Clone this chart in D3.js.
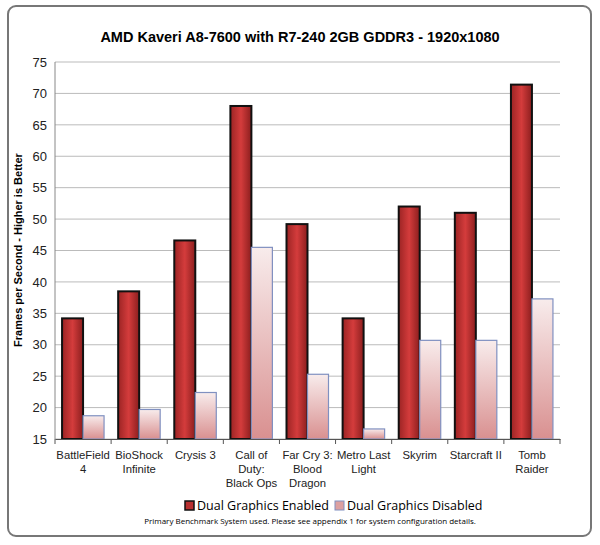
<!DOCTYPE html><html><head><meta charset="utf-8"><script src="https://cdn.jsdelivr.net/npm/d3@7"></script>
<style>body{margin:0;background:#fff}</style></head><body><svg id="c" width="600" height="545"></svg>
<script>
const categories=[["BattleField","4"],["BioShock","Infinite"],["Crysis 3"],["Call of","Duty:","Black Ops"],["Far Cry 3:","Blood","Dragon"],["Metro Last","Light"],["Skyrim"],["Starcraft II"],["Tomb","Raider"]];
const enabled=[34.2,38.5,46.6,68,49.2,34.2,52,51,71.4];
const disabled=[18.7,19.7,22.4,45.5,25.3,16.6,30.7,30.7,37.3];
const ticks=[15,20,25,30,35,40,45,50,55,60,65,70,75];
const svg=d3.select("#c");
const defs=svg.append("defs");
const g1=defs.append("linearGradient").attr("id","gE");
g1.append("stop").attr("offset","0").attr("stop-color","#9c2424");
g1.append("stop").attr("offset","0.5").attr("stop-color","#d43c3c");
g1.append("stop").attr("offset","1").attr("stop-color","#8c1e1e");
const g2=defs.append("linearGradient").attr("id","gD").attr("x1",0).attr("x2",0).attr("y1",0).attr("y2",1);
g2.append("stop").attr("offset","0").attr("stop-color","#f8ecec");
g2.append("stop").attr("offset","1").attr("stop-color","#d99090");
svg.append("rect").attr("x",8).attr("y",6).attr("width",583).attr("height",530).attr("rx",8).attr("fill","#fff").attr("stroke","#777").attr("stroke-width",2);
svg.append("text").attr("x",300).attr("y",42).attr("text-anchor","middle").attr("font-family","Liberation Sans, Arial").attr("font-weight","bold").attr("font-size",14.5).text("AMD Kaveri A8-7600 with R7-240 2GB GDDR3 - 1920x1080");
const L=55,R=560,T=62,B=439;
const x=d3.scaleBand().domain(d3.range(9)).range([L,R]);
const y=d3.scaleLinear().domain([15,75]).range([B,T]);
const gr=svg.append("g");
gr.selectAll("line").data(ticks).join("line").attr("x1",L).attr("x2",R).attr("y1",d=>y(d)).attr("y2",d=>y(d)).attr("stroke","#bbb");
gr.append("line").attr("x1",L).attr("x2",L).attr("y1",T).attr("y2",B).attr("stroke","#888");
const ax=svg.append("g").attr("transform",`translate(${L},0)`).call(d3.axisLeft(y).tickValues(ticks).tickSize(0).tickPadding(8));
ax.select(".domain").remove();
ax.selectAll("text").attr("font-family","Liberation Sans, Arial").attr("font-size",13).attr("fill","#222");
const bw=21;
svg.selectAll(".e").data(enabled).join("rect").attr("x",(d,i)=>x(i)+x.bandwidth()/2-bw).attr("width",bw).attr("y",d=>y(d)).attr("height",d=>B-y(d)).attr("fill","url(#gE)").attr("stroke","#111").attr("stroke-width",2);
svg.selectAll(".d").data(disabled).join("rect").attr("x",(d,i)=>x(i)+x.bandwidth()/2).attr("width",bw).attr("y",d=>y(d)).attr("height",d=>B-y(d)).attr("fill","url(#gD)").attr("stroke","#8090c0").attr("stroke-width",1.2);
const xa=svg.append("g").attr("transform",`translate(0,${B})`).call(d3.axisBottom(x).tickValues([]).tickSizeOuter(0));
xa.select(".domain").attr("stroke","#555");
svg.selectAll(".tk").data(d3.range(10)).join("line").attr("x1",i=>L+i*x.step()).attr("x2",i=>L+i*x.step()).attr("y1",B).attr("y2",B+5).attr("stroke","#555");
categories.forEach((c,i)=>{const t=svg.append("text").attr("text-anchor","middle").attr("font-family","Liberation Sans, Arial").attr("font-size",11.3).attr("fill","#222");
c.forEach((s,j)=>t.append("tspan").attr("x",x(i)+x.bandwidth()/2).attr("y",B+20+j*14).text(s));});
svg.append("text").attr("transform","translate(22,250) rotate(-90)").attr("text-anchor","middle").attr("font-family","Liberation Sans, Arial").attr("font-weight","bold").attr("font-size",11).text("Frames per Second - Higher is Better");
const lg=svg.append("g").attr("font-family","Open Sans, Liberation Sans").attr("font-size",12.5);
lg.append("rect").attr("x",185).attr("y",501).attr("width",9).attr("height",9).attr("fill","#b83030").attr("stroke","#111").attr("stroke-width",1.5);
lg.append("text").attr("x",197).attr("y",510).text("Dual Graphics Enabled");
lg.append("rect").attr("x",335).attr("y",501).attr("width",9).attr("height",9).attr("fill","#dca0a0").attr("stroke","#8090c0");
lg.append("text").attr("x",347).attr("y",510).text("Dual Graphics Disabled");
svg.append("text").attr("x",310).attr("y",524).attr("text-anchor","middle").attr("font-family","Open Sans, Liberation Sans").attr("font-size",8).text("Primary Benchmark System used.  Please see appendix 1 for system configuration details.");
</script></body></html>
